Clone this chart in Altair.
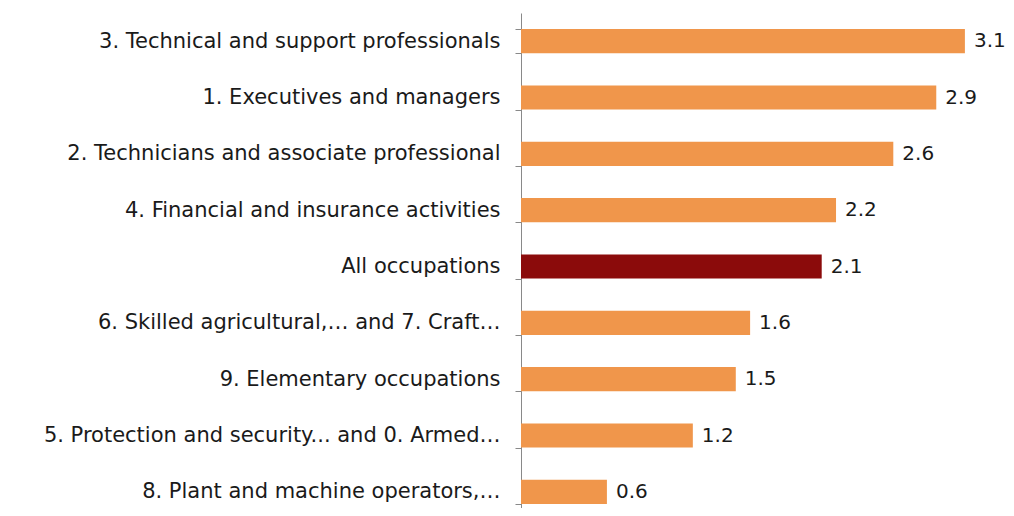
import altair as alt
import pandas as pd

categories = [
    "3. Technical and support professionals",
    "1. Executives and managers",
    "2. Technicians and associate professional",
    "4.  Financial and insurance activities",
    "All occupations",
    "6. Skilled agricultural,\u2026 and 7. Craft\u2026",
    "9. Elementary occupations",
    "5. Protection and security...  and 0. Armed\u2026",
    "8. Plant and machine operators,\u2026",
]
values = [3.1, 2.9, 2.6, 2.2, 2.1, 1.6, 1.5, 1.2, 0.6]
groups = ["occ", "occ", "occ", "occ", "all", "occ", "occ", "occ", "occ"]

df = pd.DataFrame({"cat": categories, "val": values, "grp": groups})

FONT = "DejaVu Sans"

y = alt.Y(
    "cat:N",
    sort=categories,
    title=None,
    scale=alt.Scale(range=[0, 507], paddingInner=0.57, paddingOuter=0.285),
    axis=alt.Axis(
        tickBand="extent",
        tickSize=6,
        tickColor="#898989",
        domainColor="#898989",
        labelPadding=15,
        labelFont=FONT,
        labelFontSize=21,
        labelColor="#1a1a1a",
        labelLimit=600,
        minExtent=508,
        maxExtent=508,
    ),
)

x = alt.X(
    "val:Q",
    title=None,
    scale=alt.Scale(domain=[0, 3.387], nice=False),
    axis=None,
)

bars = alt.Chart(df).mark_bar().encode(
    y=y,
    x=x,
    color=alt.Color(
        "grp:N",
        scale=alt.Scale(domain=["occ", "all"], range=["#F0964B", "#8B0B0B"]),
        legend=None,
    ),
)

labels = alt.Chart(df).mark_text(
    align="left", baseline="middle", dx=9, font=FONT, fontSize=20, color="#1a1a1a"
).encode(
    y=alt.Y("cat:N", sort=categories),
    x="val:Q",
    text=alt.Text("val:Q", format=".1f"),
)

chart = (
    alt.layer(bars, labels)
    .properties(
        width=485,
        height=495,
        autosize=alt.AutoSizeParams(type="none"),
        padding={"left": 513, "top": 5, "right": 0, "bottom": 0},
    )
    .configure_view(stroke=None)
)

chart.save("out.html", embed_options={"renderer": "svg", "actions": False})
